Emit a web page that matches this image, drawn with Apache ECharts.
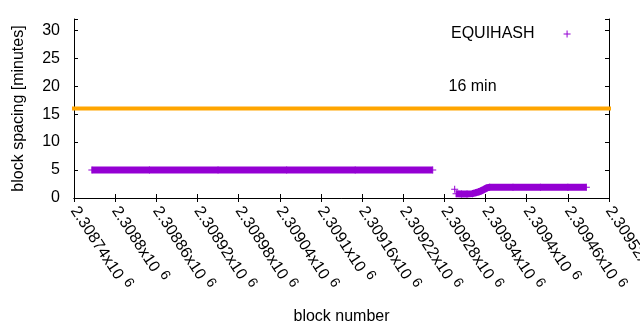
<!DOCTYPE html>
<html>
<head>
<meta charset="utf-8">
<script src="https://cdn.jsdelivr.net/npm/echarts@6/dist/echarts.min.js"></script>
<style>
html,body{margin:0;padding:0;background:#fff;}
#c{width:640px;height:330px;}
</style>
</head>
<body>
<div id="c"></div>
<script>
// ---- data ----
const xMin = 2308740, xMax = 2309520, xStep = 60;
const xTickLabels = ['2.30874','2.3088','2.30886','2.30892','2.30898','2.30904','2.3091','2.30916','2.30922','2.30928','2.30934','2.3094','2.30946','2.30952'];
const yTicks = [0, 5, 10, 15, 20, 25, 30];

// EQUIHASH block spacing (minutes), first regime
const seg1Blocks  = [2308766, 2308850, 2308950, 2309050, 2309150, 2309263];
const seg1Spacing = [5, 5, 5, 5, 5, 5];
// isolated transition block
const transBlocks  = [2309295];
const transSpacing = [1.55];
// second regime
const seg2Blocks  = [2309297, 2309305, 2309313, 2309321, 2309326, 2309330, 2309334, 2309338, 2309342, 2309346, 2309380, 2309420, 2309460, 2309487];
const seg2Spacing = [0.75, 0.72, 0.72, 0.78, 0.95, 1.1, 1.3, 1.55, 1.8, 1.9, 1.9, 1.9, 1.9, 1.9];

// reference line
const refValue = 16;
const refLabel = '16 min';
const refLabelPos = [2309286, 20];
const seriesName = 'EQUIHASH';

// ---- chart ----
const purple = '#9400d3';
const orange = '#ffa500';
const plus = 'path://M0,3L7,3L7,4L0,4Z M3,0L4,0L4,7L3,7Z';
// legend key: blank space then the plus sample on the right
const legendPlus = 'path://M0,3L0,3.01L0.01,3Z M24,3L31,3L31,4L24,4Z M27,0L28,0L28,7L27,7Z';
const font = 'Liberation Sans, Arial, sans-serif';

const equiData = [];
seg1Blocks.forEach((b, i) => equiData.push([b, seg1Spacing[i]]));
equiData.push('-');
transBlocks.forEach((b, i) => equiData.push([b, transSpacing[i]]));
equiData.push('-');
seg2Blocks.forEach((b, i) => equiData.push([b, seg2Spacing[i]]));

const chart = echarts.init(document.getElementById('c'), null, {renderer: 'canvas'});

const xCommon = {
  type: 'value', min: xMin, max: xMax, interval: xStep,
  axisLine: {show: true, lineStyle: {color: '#000', width: 1}},
  axisTick: {show: true, inside: true, length: 4, lineStyle: {color: '#000'}},
  splitLine: {show: false}
};
const yCommon = {
  type: 'value', min: 0, max: 32, interval: 5,
  axisLine: {show: true, lineStyle: {color: '#000', width: 1}},
  axisTick: {show: true, inside: true, length: 4, lineStyle: {color: '#000'}},
  splitLine: {show: false}
};

chart.setOption({
  animation: false,
  backgroundColor: '#fff',
  textStyle: {fontFamily: font},
  grid: {left: 74, right: 31, top: 19, bottom: 132, outerBoundsMode: 'none', containLabel: false},
  legend: {
    data: [{name: seriesName, icon: legendPlus}],
    left: 451, top: 26, padding: 0,
    align: 'right',
    itemWidth: 31, itemHeight: 7,
    textStyle: {fontFamily: font, fontSize: 16, color: '#000'}
  },
  xAxis: [
    Object.assign({}, xCommon, {
      position: 'bottom',
      name: 'block number', nameLocation: 'middle', nameGap: 111,
      nameTextStyle: {fontFamily: font, fontSize: 16, color: '#000'},
      axisLabel: {
        show: true, rotate: -57, margin: 10, color: '#000',
        fontFamily: font, fontSize: 16,
        showMinLabel: true, showMaxLabel: true, hideOverlap: false,
        formatter: function (v) {
          const idx = Math.round((v - xMin) / xStep);
          return '{n|' + xTickLabels[idx] + 'x10}{s|6}';
        },
        rich: {
          n: {fontFamily: font, fontSize: 16, color: '#000'},
          s: {fontFamily: font, fontSize: 14, color: '#000', padding: [0, 0, 10, 5]}
        }
      }
    }),
    Object.assign({}, xCommon, {position: 'top', axisLabel: {show: false}})
  ],
  yAxis: [
    Object.assign({}, yCommon, {
      position: 'left',
      name: 'block spacing [minutes]', nameLocation: 'middle', nameGap: 47, nameRotate: 90,
      nameTextStyle: {fontFamily: font, fontSize: 16, color: '#000'},
      axisLabel: {
        show: true, margin: 14, color: '#000', fontFamily: font, fontSize: 16,
        formatter: function (v) { return yTicks.indexOf(v) >= 0 ? String(v) : ''; }
      }
    }),
    Object.assign({}, yCommon, {position: 'right', axisLabel: {show: false}})
  ],
  series: [
    {
      name: 'ref', type: 'line', xAxisIndex: 0, yAxisIndex: 0,
      data: [[xMin, refValue], [xMax, refValue]],
      symbol: 'none', silent: true,
      lineStyle: {color: orange, width: 4, cap: 'square'},
      z: 2
    },
    {
      name: seriesName, type: 'line', xAxisIndex: 0, yAxisIndex: 0,
      data: equiData, connectNulls: false,
      symbol: plus, symbolSize: 7, showSymbol: true, showAllSymbol: true,
      itemStyle: {color: purple},
      lineStyle: {color: purple, width: 7, cap: 'butt', join: 'miter'},
      z: 3
    },
    {
      name: 'label', type: 'scatter', xAxisIndex: 0, yAxisIndex: 0,
      data: [refLabelPos], symbolSize: 0, silent: true,
      itemStyle: {opacity: 1},
      label: {show: true, position: 'right', distance: 0, formatter: refLabel,
        fontFamily: font, fontSize: 16, color: '#000', opacity: 1}
    }
  ]
});
</script>
</body>
</html>
